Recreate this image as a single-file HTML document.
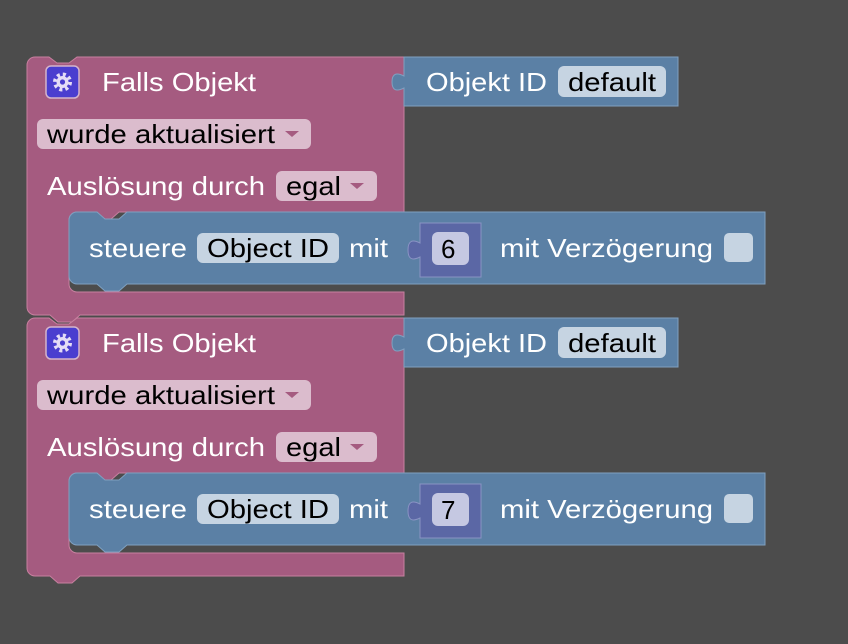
<!DOCTYPE html>
<html><head><style>
html,body{margin:0;padding:0;background:#4c4c4c;}
svg{display:block}
text{font-family:"Liberation Sans",Arial,sans-serif;font-size:26px;}
.w{fill:#fff}.k{fill:#000}
</style></head><body>
<svg width="848" height="644" viewBox="0 0 848 644" xmlns="http://www.w3.org/2000/svg">
<rect width="848" height="644" fill="#4c4c4c"/>
<defs>
<g id="blk">
  <path d="M35,57 h14 l8,6 h12 l8,-6 h327 v155 H119 l-8,7 h-14 l-8,-7 H77 a8,8 0 0 0 -8,8 v64 a8,8 0 0 0 8,8 h327 v23 H80 l-8,7 h-14 l-8,-7 H35 a8,8 0 0 1 -8,-8 V65 a8,8 0 0 1 8,-8 z" fill="#a55b80" stroke="#c7809f" stroke-width="1"/>
  <path d="M404,57 h274 v49 h-274 v-18 c-8,4 -12,2 -12,-6 c0,-8 4,-10 12,-6 z" fill="#5b80a5" stroke="#80a0c0" stroke-width="1"/>
  <text x="426" y="91" class="w" textLength="121" lengthAdjust="spacingAndGlyphs">Objekt ID</text>
  <rect x="558" y="66" width="108" height="31" rx="6" fill="#c6d4e2"/>
  <text x="568" y="91" class="k" textLength="88" lengthAdjust="spacingAndGlyphs">default</text>
  <rect x="46" y="66" width="33" height="32" rx="5" fill="#4a3ecf" stroke="#d4b4cc" stroke-width="1.5"/>
  <circle cx="62.5" cy="82" r="7.5" fill="none" stroke="#e4dcf6" stroke-width="4" stroke-dasharray="3 2.9"/>
  <circle cx="62.5" cy="82" r="6" fill="#e4dcf6"/>
  <circle cx="62.5" cy="82" r="2.6" fill="#4a3ecf"/>
  <text x="102" y="91" class="w" textLength="154" lengthAdjust="spacingAndGlyphs">Falls Objekt</text>
  <rect x="37" y="119" width="274" height="30" rx="6" fill="#dbbccd"/>
  <text x="47" y="143" class="k" textLength="228" lengthAdjust="spacingAndGlyphs">wurde aktualisiert</text>
  <path d="M285,131 h14 l-7,6 z" fill="#a55b80"/>
  <text x="47" y="195" class="w" textLength="218" lengthAdjust="spacingAndGlyphs">Auslösung durch</text>
  <rect x="276" y="171" width="101" height="30" rx="6" fill="#dbbccd"/>
  <text x="286" y="195" class="k" textLength="55" lengthAdjust="spacingAndGlyphs">egal</text>
  <path d="M350,183 h14 l-7,6 z" fill="#a55b80"/>
  <path d="M77,212 h20 l8,7 h14 l8,-7 h638 v72 H127 l-8,7 h-14 l-8,-7 H77 a8,8 0 0 1 -8,-8 v-56 a8,8 0 0 1 8,-8 z" fill="#5b80a5" stroke="#7fa0c0" stroke-width="1"/>
  <text x="89" y="257" class="w" textLength="98" lengthAdjust="spacingAndGlyphs">steuere</text>
  <rect x="197" y="233" width="142" height="30" rx="6" fill="#c6d4e2"/>
  <text x="207" y="257" class="k" textLength="122" lengthAdjust="spacingAndGlyphs">Object ID</text>
  <text x="349" y="257" class="w" textLength="39" lengthAdjust="spacingAndGlyphs">mit</text>
  <path d="M420,223 h61 v54 h-61 v-20 c-8,4 -12,2 -12,-7 c0,-9 4,-11 12,-7 z" fill="#5b67a5" stroke="#8a93c4" stroke-width="1"/>
  <rect x="432" y="232" width="37" height="33" rx="6" fill="#c5c8e2"/>
  <text x="500" y="257" class="w" textLength="213" lengthAdjust="spacingAndGlyphs">mit Verzögerung</text>
  <rect x="724" y="233" width="29" height="29" rx="5" fill="#c6d4e2"/>
</g>
</defs>
<use href="#blk"/>
<text x="441" y="258" class="k">6</text>
<g transform="translate(0,261)"><use href="#blk"/><text x="441" y="258" class="k">7</text></g>
</svg>
</body></html>
